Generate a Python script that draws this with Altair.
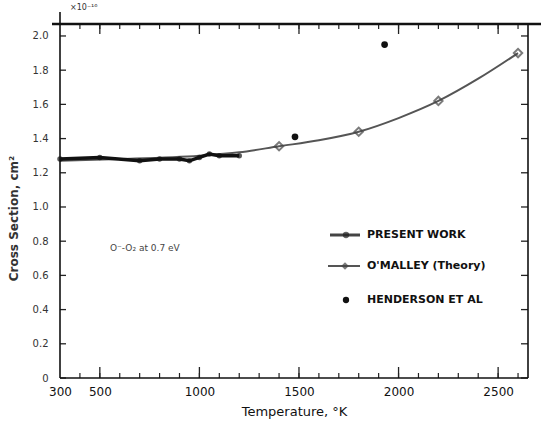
import altair as alt
import pandas as pd

# ---- data ----
pw_temp = [300, 500, 700, 800, 900, 950, 1000, 1050, 1100, 1200]
pw_xs = [1.28, 1.29, 1.27, 1.28, 1.28, 1.27, 1.29, 1.31, 1.30, 1.30]

om_temp = [300, 600, 1000, 1200, 1400, 1600, 1800, 2000, 2200, 2400, 2600]
om_xs = [1.27, 1.28, 1.30, 1.32, 1.355, 1.39, 1.44, 1.52, 1.62, 1.75, 1.90]
om_mark_temp = [1400, 1800, 2200, 2600]
om_mark_xs = [1.355, 1.44, 1.62, 1.90]

hd_temp = [1480, 1930]
hd_xs = [1.41, 1.95]

x_labels = [300, 500, 1000, 1500, 2000, 2500]
x_minor = list(range(400, 2700, 100))
x_major = [500, 1000, 1500, 2000, 2500]
y_ticks = [0, 0.2, 0.4, 0.6, 0.8, 1.0, 1.2, 1.4, 1.6, 1.8, 2.0]

legend_labels = ["PRESENT WORK", "O'MALLEY (Theory)", "HENDERSON ET AL"]
annotation = "O\u207b-O\u2082 at 0.7 eV"
scale_note = "\u00d710\u207b\u00b9\u2076"

W, H = 468, 354
FONT = "DejaVu Sans"
INK = "#222222"

xs = alt.Scale(domain=[300, 2650], nice=False, zero=False)
ys = alt.Scale(domain=[0, 2.07], nice=False, zero=False)

pw = pd.DataFrame({"T": pw_temp, "S": pw_xs})
om = pd.DataFrame({"T": om_temp, "S": om_xs})
omm = pd.DataFrame({"T": om_mark_temp, "S": om_mark_xs})
hd = pd.DataFrame({"T": hd_temp, "S": hd_xs})

x_axis = alt.Axis(values=x_labels, title="Temperature, \u00b0K", ticks=False, domain=False,
                  grid=False, labelPadding=8, labelFontSize=12, labelColor="#111",
                  labelFont=FONT, titleFont=FONT, titleFontSize=13, titleFontWeight="normal",
                  titleColor="#111", titlePadding=8, labelFlush=False, format="d",
                  labelOverlap=False)
y_axis = alt.Axis(values=y_ticks, title="Cross Section, cm\u00b2", ticks=False, domain=False,
                  grid=False, labelPadding=12, labelFontSize=10, labelColor="#333",
                  labelFont=FONT, titleFont=FONT, titleFontSize=12, titleFontWeight="bold",
                  titleColor="#333", titlePadding=12, titleY=194, labelOverlap=False,
                  labelExpr="datum.value == 0 ? '0' : format(datum.value, '.1f')")


def X():
    return alt.X("T:Q", scale=xs, axis=x_axis)


def Y():
    return alt.Y("S:Q", scale=ys, axis=y_axis)


om_line = alt.Chart(om).mark_line(color="#555", strokeWidth=2, interpolate="monotone").encode(x=X(), y=Y())
om_pts = alt.Chart(omm).mark_point(shape="diamond", size=70, color="#444", filled=False,
                                   strokeWidth=2).encode(x=X(), y=Y())

pw_line = alt.Chart(pw).mark_line(color="#111", strokeWidth=3.5).encode(x=X(), y=Y())
pw_pts = alt.Chart(pw).mark_point(shape="circle", size=30, color="#111", filled=True).encode(x=X(), y=Y())

hd_pts = alt.Chart(hd).mark_point(shape="circle", size=45, color="#111", filled=True, opacity=1).encode(
    x=X(), y=Y())

# inward ticks
yt = pd.DataFrame({"S": y_ticks})
left_ticks = alt.Chart(yt).mark_rule(color=INK, strokeWidth=1.3).encode(
    y=Y(), x=alt.value(0), x2=alt.value(6))
right_ticks = alt.Chart(yt).mark_rule(color=INK, strokeWidth=1.3).encode(
    y=Y(), x=alt.value(W - 7), x2=alt.value(W))
xm = pd.DataFrame({"T": x_minor})
xM = pd.DataFrame({"T": x_major})
bot_minor = alt.Chart(xm).mark_rule(color=INK, strokeWidth=1.2).encode(
    x=X(), y=alt.value(H - 5), y2=alt.value(H))
bot_major = alt.Chart(xM).mark_rule(color=INK, strokeWidth=1.3).encode(
    x=X(), y=alt.value(H - 11), y2=alt.value(H))
top_minor = alt.Chart(xm).mark_rule(color=INK, strokeWidth=1.2).encode(
    x=X(), y=alt.value(0), y2=alt.value(5))
top_major = alt.Chart(xM).mark_rule(color=INK, strokeWidth=1.3).encode(
    x=X(), y=alt.value(0), y2=alt.value(10))

one = pd.DataFrame({"k": [0]})
top_rule = alt.Chart(one).mark_rule(color="#111", strokeWidth=2.5).encode(
    x=alt.value(-8), x2=alt.value(W + 13), y=alt.value(0))
left_rule = alt.Chart(one).mark_rule(color="#111", strokeWidth=1.6).encode(
    x=alt.value(0), y=alt.value(-12), y2=alt.value(H))
bottom_rule = alt.Chart(one).mark_rule(color="#111", strokeWidth=1.6).encode(
    x=alt.value(0), x2=alt.value(W), y=alt.value(H))
right_rule = alt.Chart(one).mark_rule(color="#111", strokeWidth=1.6).encode(
    x=alt.value(W), y=alt.value(0), y2=alt.value(H))

# legend (manual)
LX, LT = 270, [211, 242, 276]
leg_pw_line = alt.Chart(one).mark_rule(color="#444", strokeWidth=3).encode(
    x=alt.value(LX), x2=alt.value(LX + 30), y=alt.value(LT[0]))
leg_pw_pt = alt.Chart(one).mark_point(shape="circle", size=40, color="#222", filled=True).encode(
    x=alt.value(LX + 16), y=alt.value(LT[0]))
leg_om_line = alt.Chart(one).mark_rule(color="#555", strokeWidth=2).encode(
    x=alt.value(LX - 2), x2=alt.value(LX + 30), y=alt.value(LT[1]))
leg_om_pt = alt.Chart(one).mark_point(shape="diamond", size=60, color="#444", filled=True).encode(
    x=alt.value(LX + 15), y=alt.value(LT[1]))
leg_hd_pt = alt.Chart(one).mark_point(shape="circle", size=40, color="#111", filled=True, opacity=1).encode(
    x=alt.value(LX + 16), y=alt.value(LT[2]))
leg_texts = [
    alt.Chart(one).mark_text(text=lab, align="left", baseline="middle", font=FONT, fontSize=11,
                             color="#111", fontWeight="bold").encode(x=alt.value(LX + 37), y=alt.value(ly))
    for lab, ly in zip(legend_labels, LT)
]

ann = alt.Chart(one).mark_text(text=annotation, align="left", baseline="middle", font=FONT,
                               fontSize=9, color="#444").encode(x=alt.value(50), y=alt.value(224))
note = alt.Chart(one).mark_text(text=scale_note, align="left", baseline="middle", font=FONT,
                                fontSize=8, color="#333").encode(x=alt.value(10), y=alt.value(-16))

chart = alt.layer(
    om_line, pw_line, om_pts, pw_pts, hd_pts,
    left_ticks, right_ticks, bot_minor, bot_major, top_minor, top_major,
    top_rule, left_rule, bottom_rule, right_rule,
    leg_pw_line, leg_pw_pt, leg_om_line, leg_om_pt, leg_hd_pt, *leg_texts, ann, note
).properties(
    width=W, height=H,
    autosize=alt.AutoSizeParams(type="none"),
    padding={"left": 60, "top": 24, "right": 13, "bottom": 50},
    background="white"
).configure_view(stroke=None).configure_axis(labelOverlap=False)

chart.save("out.html", embed_options={"renderer": "svg", "actions": False})
